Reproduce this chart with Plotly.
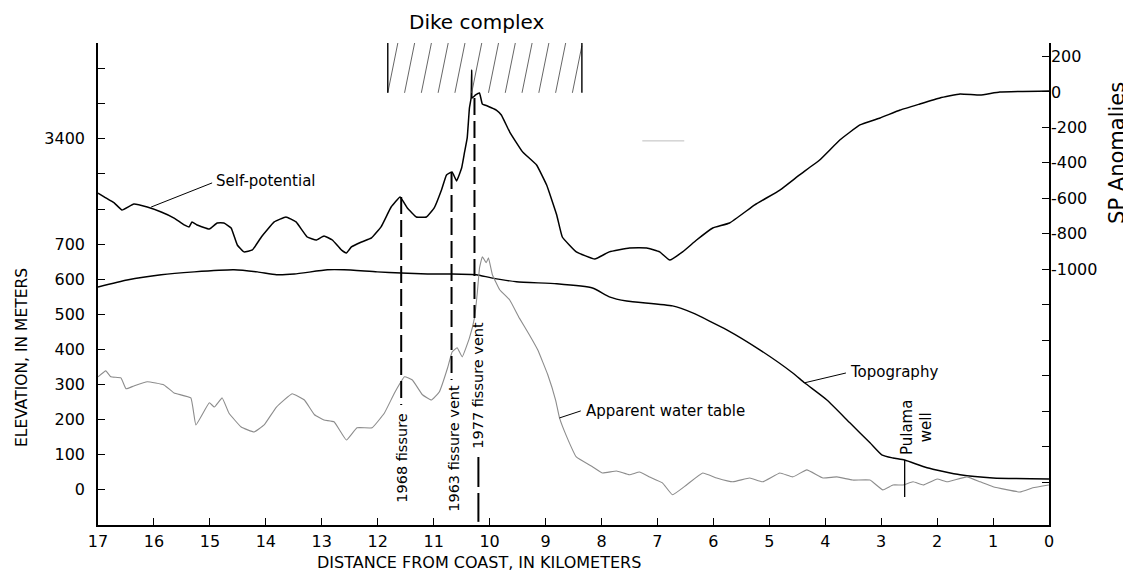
import plotly.graph_objects as go

# ---------------- data ----------------
# Self-potential profile (mV, right axis) vs distance from coast (km)
sp_km = [17.00, 16.89, 16.71, 16.57, 16.36, 16.12, 15.87, 15.64, 15.46, 15.37,
         15.32, 15.23, 15.01, 14.87, 14.75, 14.62, 14.51, 14.39, 14.24, 14.08,
         13.85, 13.64, 13.46, 13.26, 13.10, 12.96, 12.81, 12.65, 12.56, 12.47,
         12.29, 12.11, 11.94, 11.76, 11.60, 11.47, 11.31, 11.13, 10.99, 10.86,
         10.77, 10.67, 10.59, 10.50, 10.45, 10.40, 10.36, 10.33, 10.32, 10.31,
         10.25, 10.18, 10.13, 10.04, 9.88, 9.79, 9.64, 9.41, 9.16, 8.98,
         8.80, 8.70, 8.45, 8.12, 7.86, 7.50, 7.19, 6.96, 6.78, 6.55,
         6.30, 6.01, 5.71, 5.26, 4.81, 4.46, 4.10, 3.74, 3.38, 3.02,
         2.66, 2.31, 1.95, 1.59, 1.23, 0.88, 0.00]
sp_mv = [-570, -592, -626, -666, -632, -649, -677, -711, -750, -761,
         -733, -750, -773, -739, -739, -767, -863, -902, -891, -818,
         -733, -705, -733, -818, -835, -812, -835, -891, -908, -874,
         -846, -823, -761, -649, -592, -654, -705, -705, -654, -553,
         -468, -451, -502, -429, -344, -259, -90, -34, 124, -34,
         -17, -6, -68, -79, -102, -130, -226, -338, -412, -525,
         -694, -818, -902, -942, -902, -880, -880, -902, -948, -902,
         -835, -767, -739, -637, -553, -468, -384, -271, -186, -147,
         -102, -68, -34, -11, -17, 0, 6]

# Topography (m, left axis)
topo_km = [17.00, 16.48, 15.87, 15.28, 14.57, 14.15, 13.81, 13.49, 12.90, 12.60,
           12.01, 11.58, 11.11, 10.68, 10.24, 9.97, 9.52, 8.80, 8.16, 7.86,
           7.55, 6.73, 6.37, 5.76, 5.17, 4.58, 4.37, 3.97, 3.56, 3.20,
           2.99, 2.79, 2.58, 2.18, 1.59, 1.00, 0.00]
topo_m = [578, 598, 613, 621, 627, 621, 613, 615, 627, 627,
          621, 618, 615, 615, 613, 604, 593, 587, 575, 550,
          538, 524, 504, 456, 399, 333, 305, 256, 191, 134,
          100, 91, 85, 63, 43, 34, 31]

# Apparent water table (m, left axis)
wt_km = [17.00, 16.86, 16.77, 16.59, 16.50, 16.36, 16.12, 15.82, 15.64, 15.34,
         15.25, 15.01, 14.92, 14.78, 14.66, 14.44, 14.21, 14.03, 13.81, 13.53,
         13.31, 13.13, 12.96, 12.78, 12.56, 12.37, 12.10, 11.88, 11.70, 11.52,
         11.38, 11.20, 11.04, 10.90, 10.75, 10.67, 10.58, 10.49, 10.36, 10.27,
         10.22, 10.18, 10.13, 10.06, 10.02, 9.95, 9.82, 9.64, 9.47, 9.29,
         9.14, 8.96, 8.82, 8.75, 8.62, 8.45, 8.16, 7.98, 7.73, 7.50,
         7.32, 7.14, 6.91, 6.73, 6.48, 6.19, 5.94, 5.65, 5.35, 5.12,
         4.81, 4.58, 4.33, 4.04, 3.79, 3.51, 3.20, 2.97, 2.79, 2.61,
         2.43, 2.25, 2.00, 1.82, 1.47, 1.23, 1.00, 0.52, 0.29, 0.00]
wt_m = [322, 339, 322, 319, 288, 296, 308, 299, 276, 262,
        185, 248, 236, 262, 219, 179, 165, 185, 236, 274,
        256, 214, 199, 194, 142, 177, 177, 219, 276, 322,
        313, 271, 256, 279, 348, 393, 405, 379, 433, 490,
        561, 632, 664, 647, 661, 613, 570, 541, 490, 442,
        399, 328, 256, 205, 151, 94, 66, 48, 54, 43,
        51, 37, 20, -14, 14, 48, 34, 23, 34, 23,
        48, 37, 57, 34, 37, 28, 28, 0, 14, 14,
        23, 14, 31, 23, 37, 23, 9, -6, 6, 14]

# Eruptive fissures
fissure_km = [11.58, 10.68, 10.27]
fissure_top_mv = [-592, -451, -34]
fissure_bottom_m = [242, 313, 490]
fissure_labels = ["1968 fissure", "1963 fissure vent", "1977 fissure vent"]
fissure_label_km = [11.58, 10.63, 10.21]
fissure_label_m = [92, 118, 299]
vent1977_lower_km = [10.20, 10.20]
vent1977_lower_m = [94, -91]

# Pulama well
well_km = [2.58, 2.58]
well_m = [85, -20]

# Dike complex (km extent, mV extent on the SP axis)
dike_km = [11.82, 8.35]
dike_mv = [-5, 276]

# Axes
x_ticks = list(range(0, 18))
elev_tickvals = [0, 100, 200, 300, 400, 500, 600, 700, 800, 900, 1000, 1100, 1200]
elev_ticktext = ["0", "100", "200", "300", "400", "500", "600", "700", "", "", "3400", "", ""]
sp_tickvals = [200, 0, -200, -400, -600, -800, -1000, -1200, -1400, -1600, -1800, -2000, -2200]
sp_ticktext = ["200", "0", "-200", "-400", "-600", "-800", "-1000", "", "", "", "", "", ""]

ELEV_RANGE = [-100, 1273]
SP_RANGE = [-2442, 276]

FONT = "DejaVu Sans"


def sp_to_elev(mv):
    return ELEV_RANGE[0] + (mv - SP_RANGE[0]) * (ELEV_RANGE[1] - ELEV_RANGE[0]) / (SP_RANGE[1] - SP_RANGE[0])


fig = go.Figure()

# Topography
fig.add_trace(go.Scatter(x=topo_km, y=topo_m, mode="lines", yaxis="y",
                         line=dict(color="black", width=1.4, shape="spline", smoothing=0.5),
                         hoverinfo="skip", showlegend=False))
# Apparent water table
fig.add_trace(go.Scatter(x=wt_km, y=wt_m, mode="lines", yaxis="y",
                         line=dict(color="#8c8c8c", width=1.1, shape="spline", smoothing=0.3),
                         hoverinfo="skip", showlegend=False))
# Self-potential
fig.add_trace(go.Scatter(x=sp_km, y=sp_mv, mode="lines", yaxis="y2",
                         line=dict(color="black", width=1.5, shape="spline", smoothing=0.3),
                         hoverinfo="skip", showlegend=False))

# Fissure lines
for km, top_mv, bot_m in zip(fissure_km, fissure_top_mv, fissure_bottom_m):
    fig.add_trace(go.Scatter(x=[km, km], y=[sp_to_elev(top_mv), bot_m], mode="lines", yaxis="y",
                             line=dict(color="black", width=2, dash="17px,6px"),
                             hoverinfo="skip", showlegend=False))
fig.add_trace(go.Scatter(x=vent1977_lower_km, y=vent1977_lower_m, mode="lines", yaxis="y",
                         line=dict(color="black", width=2, dash="30px,6px"),
                         hoverinfo="skip", showlegend=False))
# Pulama well
fig.add_trace(go.Scatter(x=well_km, y=well_m, mode="lines", yaxis="y",
                         line=dict(color="black", width=1.3),
                         hoverinfo="skip", showlegend=False))

shapes = []
# Dike complex hatching
left, right = dike_km
bot, top = dike_mv
spacing, slant = 0.30, 0.18
xb = left
while xb > right:
    t0, t1 = 0.0, 1.0
    if xb - slant < right:
        t1 = (xb - right) / slant
    shapes.append(dict(type="line", xref="x", yref="y2",
                       x0=xb - slant * t0, y0=bot + (top - bot) * t0,
                       x1=xb - slant * t1, y1=bot + (top - bot) * t1,
                       line=dict(color="#555", width=0.9)))
    xb -= spacing
for xe in dike_km:
    shapes.append(dict(type="line", xref="x", yref="y2", x0=xe, x1=xe, y0=bot, y1=top,
                       line=dict(color="black", width=1.4)))

# leader lines for curve labels
shapes.append(dict(type="line", xref="x", yref="y2", x0=16.05, y0=-649, x1=14.96, y1=-513,
                   line=dict(color="black", width=1)))
shapes.append(dict(type="line", xref="x", yref="y", x0=4.37, y0=305, x1=3.63, y1=333,
                   line=dict(color="black", width=1)))
shapes.append(dict(type="line", xref="x", yref="y", x0=8.75, y0=205, x1=8.37, y1=225,
                   line=dict(color="black", width=1)))
# faint scan mark
shapes.append(dict(type="line", xref="x", yref="y2", x0=7.27, y0=-276, x1=6.52, y1=-276,
                   line=dict(color="#bdbdbd", width=1)))

ann = []
black = "black"


def txt(text, x, y, xref, yref, size, angle=0, xanchor="center"):
    return dict(text=text, x=x, y=y, xref=xref, yref=yref, textangle=angle,
                xanchor=xanchor, yanchor="middle", showarrow=False,
                font=dict(family=FONT, size=size, color=black))


ann.append(txt("Dike complex", 10.24, 1.0436, "x", "paper", 20))
ann.append(txt("SP Anomalies", 1.0715, 0.772, "paper", "paper", 21, -90))
ann.append(txt("ELEVATION, IN METERS", -0.0799, 0.3465, "paper", "paper", 15.5, -90))
ann.append(txt("DISTANCE FROM COAST, IN KILOMETERS", 0.4006, -0.0788, "paper", "paper", 16))
ann.append(txt("Self-potential", 14.93, -502, "x", "y2", 15, xanchor="left"))
ann.append(txt("Topography", 3.60, 336, "x", "y", 15, xanchor="left"))
ann.append(txt("Apparent water table", 8.32, 225, "x", "y", 15, xanchor="left"))
for lab, km, m in zip(fissure_labels, fissure_label_km, fissure_label_m):
    ann.append(txt(lab, km, m, "x", "y", 14.5, -90))
ann.append(txt("Pulama<br>well", 2.36, 179, "x", "y", 15, -90))

axis_common = dict(ticks="inside", ticklen=7, tickwidth=1.3, tickcolor="black",
                   showline=True, linecolor="black", linewidth=1.5,
                   showgrid=False, zeroline=False,
                   tickfont=dict(family=FONT, size=16, color="black"))

# the page body adds an 8px offset, so the figure is sized to fill the window exactly
fig.update_layout(
    width=1123, height=564,
    margin=dict(l=90, r=82, t=35, b=47, autoexpand=False),
    paper_bgcolor="white", plot_bgcolor="white",
    showlegend=False,
    xaxis=dict(range=[17, 0], tickvals=x_ticks, ticktext=[str(v) for v in x_ticks],
               ticklabelstandoff=1, **axis_common),
    yaxis=dict(range=ELEV_RANGE, tickvals=elev_tickvals, ticktext=elev_ticktext,
               ticklabelstandoff=8, **axis_common),
    yaxis2=dict(range=SP_RANGE, overlaying="y", side="right", tickvals=sp_tickvals,
                ticktext=sp_ticktext, ticklabelstandoff=-3, **axis_common),
    shapes=shapes,
    annotations=ann,
)

fig.write_html("out.html")
